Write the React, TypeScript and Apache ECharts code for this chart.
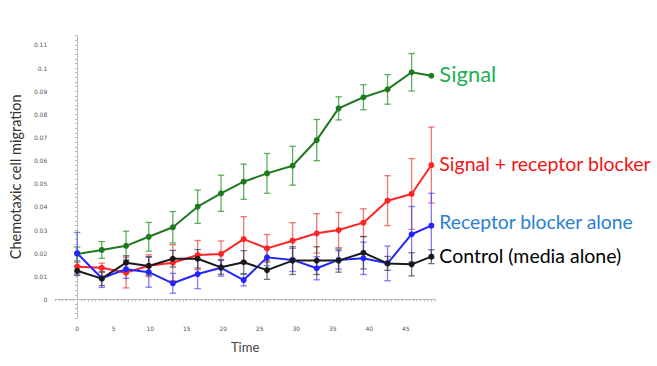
import React, { useEffect, useRef } from "react";
import * as echarts from "echarts";

const times = [0, 3.37, 6.7, 9.8, 13.1, 16.5, 19.7, 22.8, 26.0, 29.5, 32.8, 35.8, 39.2, 42.5, 45.8, 48.5];

const signal = [0.0197, 0.0214, 0.0232, 0.0271, 0.0312, 0.0401, 0.0459, 0.0509, 0.0545, 0.0578, 0.0689, 0.0826, 0.0874, 0.0908, 0.0982, 0.0967];
const signalErr = [0.003, 0.0036, 0.0063, 0.0062, 0.0068, 0.0072, 0.0078, 0.0076, 0.0086, 0.0084, 0.0089, 0.005, 0.0054, 0.0064, 0.0081, 0];

const signalBlocker = [0.0142, 0.0137, 0.0116, 0.0146, 0.0159, 0.0192, 0.0197, 0.0261, 0.0221, 0.0254, 0.0286, 0.03, 0.0332, 0.0427, 0.0456, 0.0581];
const signalBlockerErr = [0.002, 0.002, 0.0066, 0.0047, 0.0078, 0.0063, 0.0056, 0.0097, 0.006, 0.0078, 0.0085, 0.0076, 0.006, 0.0108, 0.0153, 0.0164];

const blockerAlone = [0.02, 0.0092, 0.0131, 0.0118, 0.007, 0.011, 0.0137, 0.0084, 0.0182, 0.0171, 0.0135, 0.0171, 0.0178, 0.0156, 0.0282, 0.0319];
const blockerAloneErr = [0.009, 0.004, 0.004, 0.0065, 0.0043, 0.0063, 0.0036, 0.0025, 0.0036, 0.005, 0.005, 0.004, 0.007, 0.0075, 0.012, 0.014];

const control = [0.0124, 0.009, 0.0159, 0.0145, 0.0176, 0.0176, 0.0139, 0.0161, 0.0127, 0.0168, 0.0168, 0.0168, 0.0202, 0.0156, 0.0152, 0.0185];
const controlErr = [0.002, 0.003, 0.003, 0.004, 0.0036, 0.004, 0.003, 0.005, 0.004, 0.006, 0.006, 0.005, 0.007, 0.003, 0.005, 0.003];

const seriesNames = ["Signal", "Signal + receptor blocker", "Receptor blocker alone", "Control (media alone)"];

const FONT = "Lato, 'Noto Sans', sans-serif";

export default function App() {
  const ref = useRef<HTMLDivElement>(null);
  useEffect(() => {
    const chart = echarts.init(ref.current!, null, { renderer: "svg" });

    const mkLine = (name: string, vals: number[], color: string, labelColor: string, fontSize: number, offset: number[]) => ({
      type: "line",
      name,
      data: times.map((t, i) => [t, vals[i]]),
      lineStyle: { color, width: 2 },
      itemStyle: { color },
      symbol: "circle",
      symbolSize: 6,
      z: 4,
      endLabel: {
        show: true,
        formatter: name,
        color: labelColor,
        fontSize,
        fontFamily: FONT,
        distance: 8,
        offset,
      },
    });

    const mkErr = (vals: number[], errs: number[], color: string) => ({
      type: "custom",
      data: times.map((t, i) => [t, vals[i] - errs[i], vals[i] + errs[i]]),
      encode: { x: 0, y: [1, 2] },
      z: 3,
      renderItem: (params: any, api: any) => {
        const x = api.value(0);
        const lo = api.coord([x, api.value(1)]);
        const hi = api.coord([x, api.value(2)]);
        if (Math.abs(lo[1] - hi[1]) < 1) return { type: "group", children: [] };
        const w = 3.2;
        const st = { stroke: color, lineWidth: 1.3 };
        return {
          type: "group",
          children: [
            { type: "line", shape: { x1: lo[0], y1: lo[1], x2: hi[0], y2: hi[1] }, style: st },
            { type: "line", shape: { x1: lo[0] - w, y1: lo[1], x2: lo[0] + w, y2: lo[1] }, style: st },
            { type: "line", shape: { x1: hi[0] - w, y1: hi[1], x2: hi[0] + w, y2: hi[1] }, style: st },
          ],
        };
      },
    });

    chart.setOption({
      animation: false,
      backgroundColor: "#ffffff",
      grid: { left: 54, width: 381, top: 35.7, height: 282.3, containLabel: false },
      xAxis: {
        type: "value",
        min: -3,
        max: 49,
        interval: 0.5,
        name: "Time",
        nameLocation: "middle",
        nameGap: 22,
        nameTextStyle: { fontSize: 13, color: "#444", fontFamily: FONT },
        axisLine: { show: true, lineStyle: { color: "#bbbbbb", width: 1 } },
        axisTick: { show: true, length: 2, lineStyle: { color: "#bbbbbb" } },
        splitLine: { show: false },
        axisLabel: {
          interval: 0,
          fontSize: 6,
          color: "#555555",
          fontFamily: "'DejaVu Sans', sans-serif",
          margin: 7,
          formatter: (v: number) => {
            const r = Math.round(v * 10);
            return r >= 0 && r <= 450 && r % 50 === 0 ? String(r / 10) : "";
          },
        },
      },
      yAxis: {
        type: "value",
        min: -0.008,
        max: 0.114,
        interval: 0.002,
        name: "Chemotaxic cell migration",
        nameLocation: "middle",
        nameGap: 32,
        nameRotate: 90,
        nameTextStyle: { fontSize: 14.5, color: "#333", fontFamily: FONT },
        axisLine: { show: true, lineStyle: { color: "#bbbbbb", width: 1 } },
        axisTick: { show: true, length: 2, lineStyle: { color: "#bbbbbb" } },
        splitLine: { show: false },
        axisLabel: {
          interval: 0,
          fontSize: 6,
          color: "#555555",
          fontFamily: "'DejaVu Sans', sans-serif",
          margin: 8,
          formatter: (v: number) => {
            const r = Math.round(v * 1000);
            return r >= 0 && r <= 110 && r % 10 === 0 ? String(r / 1000) : "";
          },
        },
      },
      series: [
        mkErr(signal, signalErr, "rgba(40,150,40,0.75)"),
        mkErr(signalBlocker, signalBlockerErr, "rgba(240,70,70,0.75)"),
        mkErr(blockerAlone, blockerAloneErr, "rgba(70,70,255,0.7)"),
        mkErr(control, controlErr, "rgba(60,60,60,0.7)"),
        mkLine(seriesNames[0], signal, "#1f7a1f", "#1fae55", 22, [0, -2]),
        mkLine(seriesNames[1], signalBlocker, "#ff2424", "#f01414", 19.5, [0, -2]),
        mkLine(seriesNames[2], blockerAlone, "#2424ff", "#2a7fd0", 19.3, [0, -4]),
        mkLine(seriesNames[3], control, "#1a1a1a", "#000000", 19.5, [0, -1]),
      ],
    });
    return () => chart.dispose();
  }, []);
  return <div ref={ref} style={{ position: "fixed", left: 0, top: 0, width: 657, height: 366 }} />;
}
